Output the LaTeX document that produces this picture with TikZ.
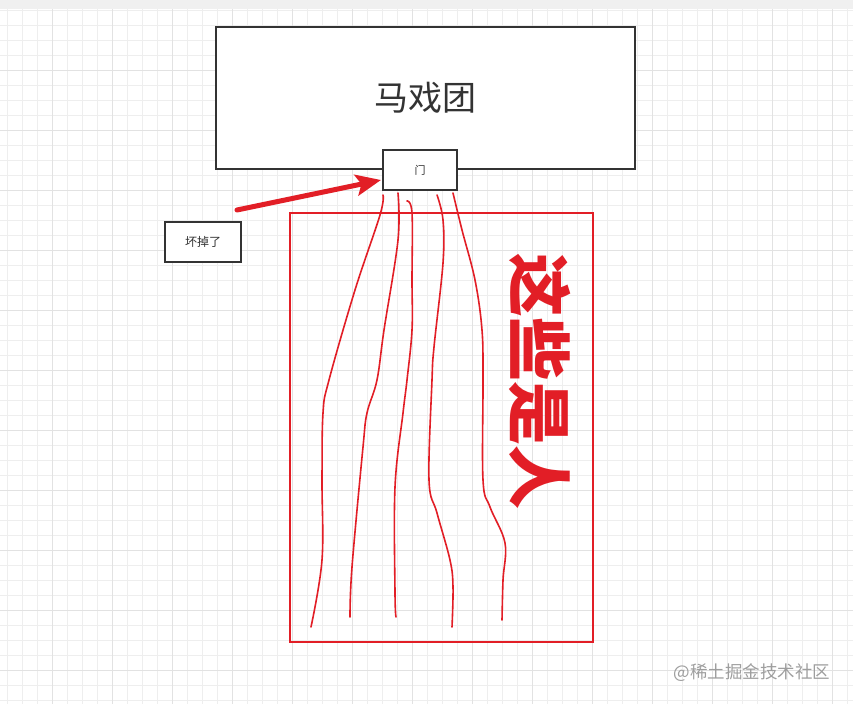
\documentclass[tikz,border=0pt]{standalone}
\usepackage{fontspec}
\setmainfont{Noto Sans CJK SC}
\usetikzlibrary{arrows.meta}
\definecolor{inkred}{RGB}{226,30,38}
\definecolor{boxline}{RGB}{51,51,51}
\definecolor{gridminor}{RGB}{238,238,238}
\definecolor{gridmajor}{RGB}{226,226,226}
\begin{document}
\begin{tikzpicture}[x=1pt,y=-1pt,
		box/.style = {shape=rectangle, draw=boxline, line width=2pt,
			fill=white, text=boxline, inner sep=0pt},
		stroke/.style = {inkred, line width=1.6pt, line cap=round},
		minorline/.style = {gridminor, line width=0.8pt},
		majorline/.style = {gridmajor, line width=0.8pt}]
	\useasboundingbox (0,0) rectangle (853,704);
	\fill[white] (0,0) rectangle (853,704);
	\fill[black!6] (0,0) rectangle (853,9);
	\foreach \i in {0,...,56}
		\draw[minorline] (7+15*\i,9) -- (7+15*\i,704);
	\foreach \i in {0,...,46}
		\draw[minorline] (0,10+15*\i) -- (853,10+15*\i);
	\foreach \i in {0,...,13}
		\draw[majorline] (52+60*\i,9) -- (52+60*\i,704);
	\foreach \i in {0,...,10}
		\draw[majorline] (0,70+60*\i) -- (853,70+60*\i);
	\node[box, minimum width=419pt, minimum height=142pt,
		font=\fontsize{34}{34}\selectfont] (circus) at (425.5,98) {马戏团};
	\node[box, minimum width=74pt, minimum height=40pt,
		font=\fontsize{11}{11}\selectfont] (door) at (420,170) {门};
	\node[box, minimum width=76pt, minimum height=40pt,
		font=\fontsize{12}{12}\selectfont] (broken) at (203,242) {坏掉了};
	\coordinate (crack) at (237,210);
	\coordinate (hit) at (381,180);
	\draw[inkred, line width=5pt, line cap=round,
		-{Stealth[length=25pt,width=21pt,inset=5pt]}] (crack) -- (hit);
	\draw[inkred, line width=1.6pt] (290,213) rectangle (593,642);
	\draw[stroke] plot[smooth, tension=0.6] coordinates {(383,195) (380,215) (355,290) (329,380)
		(323,413) (322,480) (322,560) (311,627)};
	\draw[stroke] plot[smooth, tension=0.6] coordinates {(398,193) (398,240) (384,330)
		(377,380) (367,413) (363,447) (352,567) (350,617)};
	\draw[stroke] plot[smooth, tension=0.6] coordinates {(407,201) (412,213) (412,280)
		(412,330) (407,380) (403,413) (395,487) (395,593) (396,617)};
	\draw[stroke] plot[smooth, tension=0.6] coordinates {(437,195) (443,220) (443,263)
		(434,347) (432,380) (429,480) (437,513) (450,560) (453,587) (452,627)};
	\draw[stroke] plot[smooth, tension=0.6] coordinates {(453,193) (462,230) (475,280)
		(482,330) (483,380) (483,480) (490,507) (505,543) (503,580) (502,620)};
	\node[rotate=-90, text=inkred, font=\fontsize{64}{64}\selectfont\bfseries]
		(people) at (540,381) {这些是人};
	\node[text=black!38, font=\fontsize{17.5}{17.5}\selectfont]
		(mark) at (752,673) {@稀土掘金技术社区};
\end{tikzpicture}
\end{document}
